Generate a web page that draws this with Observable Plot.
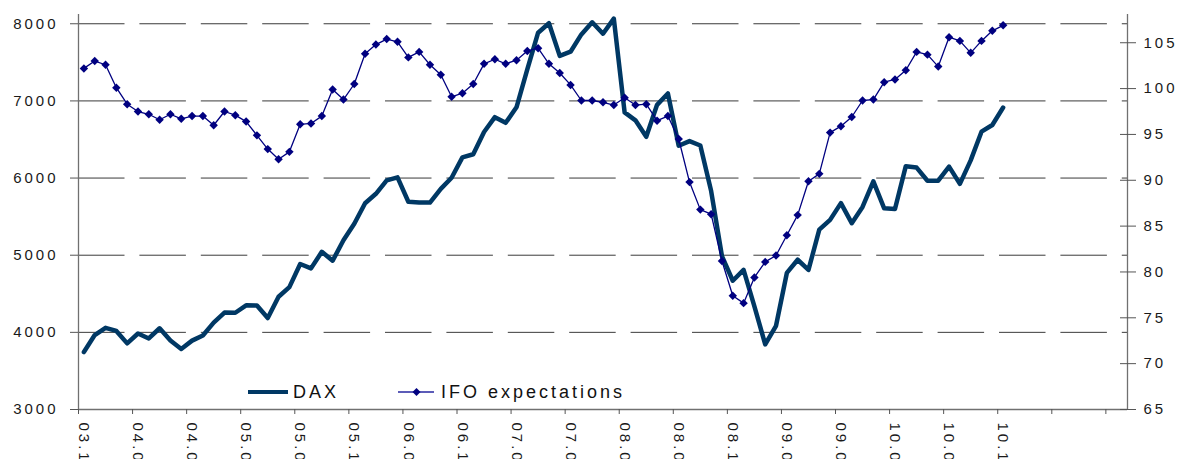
<!DOCTYPE html>
<html>
<head>
<meta charset="utf-8">
<script src="https://cdn.jsdelivr.net/npm/d3@7"></script>
<script src="https://cdn.jsdelivr.net/npm/@observablehq/plot@0.6"></script>
<style>
  html, body { margin: 0; padding: 0; background: #fff; }
  #wrap { position: relative; width: 1178px; height: 459px; overflow: hidden; }
  .lg { position: absolute; display: flex; align-items: center; font-family: "Liberation Sans", Arial, sans-serif; font-size: 18px; letter-spacing: 3px; color: #111; height: 20px; }
  .lg svg { display: block; }
</style>
</head>
<body>
<div id="wrap">
  <div id="chart"></div>
  <div class="lg" style="left:248px; top:382px;">
    <svg width="40" height="20"><line x1="0" x2="40" y1="10" y2="10" stroke="#003864" stroke-width="4"/></svg>
    <span style="margin-left:5px">DAX</span>
  </div>
  <div class="lg" style="left:398px; top:382px;">
    <svg width="36" height="20"><line x1="0" x2="36" y1="10" y2="10" stroke="#5c5cb8" stroke-width="2"/><path d="M18.5,6 L22.5,10 L18.5,14 L14.5,10 Z" fill="#000080"/></svg>
    <span style="margin-left:7px">IFO expectations</span>
  </div>
</div>
<script>
// Monthly categories: Nov 2003 .. Dec 2010 (86 months), axis room for 97 categories
const xTickLabels = ["03.11","04.04","04.09","05.02","05.07","05.12","06.05","06.10","07.03","07.08","08.01","08.06","08.11","09.04","09.09","10.02","10.07","10.12"];

const dax = [
  3745, 3965,
  4059, 4018, 3857, 3985, 3921, 4053, 3895, 3785, 3893, 3960, 4126, 4256,
  4254, 4350, 4349, 4185, 4461, 4586, 4886, 4829, 5044, 4929, 5193, 5408,
  5674, 5796, 5970, 6009, 5693, 5683, 5682, 5859, 6004, 6268, 6309, 6597,
  6789, 6716, 6917, 7409, 7884, 8007, 7584, 7638, 7862, 8019, 7871, 8067,
  6851, 6748, 6535, 6949, 7097, 6418, 6479, 6422, 5831, 4988, 4669, 4810,
  4338, 3844, 4085, 4770, 4941, 4809, 5332, 5458, 5675, 5415, 5625, 5957,
  5608, 5598, 6154, 6136, 5965, 5966, 6148, 5925, 6229, 6601, 6688, 6914
];

const ifo = [
  102.2, 103.0,
  102.6, 100.1, 98.3, 97.5, 97.2, 96.6, 97.2, 96.7, 97.0, 97.0, 96.0, 97.5,
  97.1, 96.4, 94.9, 93.4, 92.3, 93.1, 96.1, 96.2, 97.0, 99.9, 98.8, 100.5,
  103.8, 104.8, 105.4, 105.1, 103.4, 104.0, 102.6, 101.5, 99.1, 99.5, 100.5, 102.7,
  103.2, 102.7, 103.1, 104.1, 104.4, 102.7, 101.7, 100.4, 98.7, 98.7, 98.5, 98.2,
  99.0, 98.2, 98.3, 96.5, 97.0, 94.5, 89.8, 86.8, 86.3, 81.2, 77.4, 76.6,
  79.4, 81.1, 81.8, 84.0, 86.2, 89.9, 90.7, 95.2, 95.9, 96.9, 98.7, 98.8,
  100.7, 101.0, 102.0, 104.0, 103.7, 102.4, 105.6, 105.2, 103.9, 105.2, 106.3, 106.9
];

const leftTicks = [3000, 4000, 5000, 6000, 7000, 8000];
const gridValues = [4000, 5000, 6000, 7000, 8000];
const rightTicks = [65, 70, 75, 80, 85, 90, 95, 100, 105];

const nCategories = 97;
const leftDomain = [3000, 8120];
// secondary axis: 65 <-> 3000, 105 <-> 7754 (same pixel mapping as the picture)
const rightK = 118.85;
const toLeft = v => 3000 + (v - 65) * rightK;
const fromLeft = v => Math.round(65 + (v - 3000) / rightK);

const daxData = dax.map((v, i) => ({i, v}));
const ifoData = ifo.map((v, i) => ({i, v: toLeft(v)}));
const labelIdx = xTickLabels.map((_, k) => k * 5);
const boundaryTicks = d3.range(0, 20).map(k => k * 5 - 0.5);

const font = "'Liberation Sans', Arial, sans-serif";

const chart = Plot.plot({
  width: 1178,
  height: 459,
  marginLeft: 78,
  marginRight: 51,
  marginTop: 14,
  marginBottom: 50,
  style: {fontFamily: font, fontSize: "15px", letterSpacing: "3px", color: "#1a1a1a", background: "#fff"},
  x: {type: "linear", domain: [-0.5, nCategories - 0.5]},
  y: {domain: leftDomain},
  marks: [
    Plot.ruleY(gridValues, {stroke: "#3a3a3a", strokeWidth: 1, strokeDasharray: "46.5,14.9"}),
    Plot.ruleY([3000], {stroke: "#707070", strokeWidth: 1.3}),
    Plot.ruleX([-0.5], {stroke: "#707070", strokeWidth: 1.3}),
    Plot.ruleX([nCategories - 0.5], {stroke: "#707070", strokeWidth: 1.3}),
    Plot.axisY(leftTicks, {anchor: "left", tickSize: 8, tickPadding: 12, tickFormat: d3.format("d"), label: null, stroke: "#555"}),
    Plot.axisY(rightTicks.map(toLeft), {anchor: "right", tickSize: 8, tickPadding: 8, tickFormat: fromLeft, label: null, stroke: "#555"}),
    Plot.axisY(rightTicks.map(toLeft), {anchor: "right", tickSize: 8, dx: -8, tickFormat: () => "", label: null, stroke: "#555"}),
    Plot.axisX(boundaryTicks, {anchor: "bottom", tickSize: 5, tickFormat: () => "", label: null, stroke: "#555"}),
    Plot.axisX(labelIdx, {anchor: "bottom", tickSize: 0, tickPadding: 13, tickRotate: 90, tickFormat: i => xTickLabels[i / 5], label: null}),
    Plot.line(daxData, {x: "i", y: "v", stroke: "#003864", strokeWidth: 4.5, strokeLinejoin: "round"}),
    Plot.line(ifoData, {x: "i", y: "v", stroke: "#000080", strokeWidth: 1.3}),
    Plot.dot(ifoData, {x: "i", y: "v", symbol: "diamond2", r: 3.8, fill: "#000080", stroke: null})
  ]
});
document.getElementById("chart").appendChild(chart);
</script>
</body>
</html>
